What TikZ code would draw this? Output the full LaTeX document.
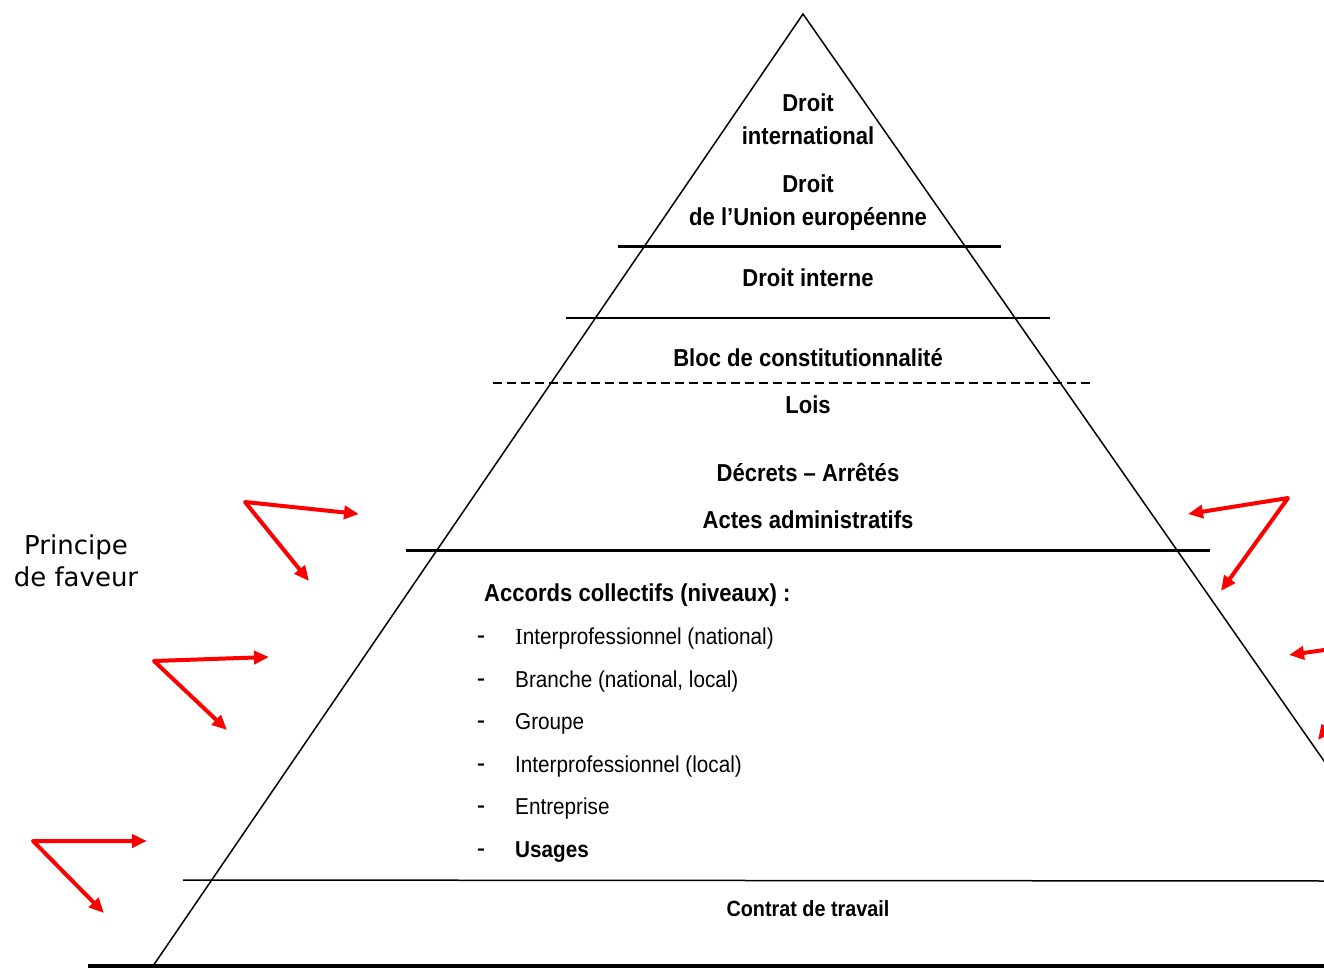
\documentclass[tikz,border=0pt]{standalone}
\usepackage{fontspec}
\setmainfont{Liberation Sans}[FakeStretch=0.9]
\newfontfamily\verdfont{DejaVu Sans}
\newfontfamily\serifIfont{Liberation Serif}
\usetikzlibrary{arrows.meta}
\begin{document}
\begin{tikzpicture}[x=1pt,y=-1pt,
 edgeline/.style={line width=1.5pt},
 thickrule/.style={line width=3pt},
 midrule/.style={line width=2pt},
 thinrule/.style={line width=1.5pt},
 lbl/.style={font=\fontsize{24.5}{28}\selectfont\bfseries, anchor=base, inner sep=0pt},
 smalllbl/.style={font=\fontsize{22}{26}\selectfont\bfseries, anchor=base, inner sep=0pt},
 itemtxt/.style={font=\fontsize{23}{28}\selectfont, anchor=base west, inner sep=0pt},
 dashtxt/.style={font=\fontsize{28}{28}\selectfont, anchor=base, inner sep=0pt},
 sidetxt/.style={font=\verdfont\fontsize{26}{30}\selectfont, anchor=base, inner sep=0pt},
 redarr/.style={draw=red, line width=4pt, line join=round,
   {Triangle[length=15pt,width=13pt]}-{Triangle[length=15pt,width=13pt]}},
]
\useasboundingbox (0,0) rectangle (1324,968);
\clip (0,0) rectangle (1324,968);

% pyramid
\coordinate (apex) at (803,14);
\coordinate (bl) at (153,966);
\coordinate (br) at (1467,966);
\draw[edgeline] (bl) -- (apex) -- (br);

% rules
\coordinate (r1a) at (618,247); \coordinate (r1b) at (1001,247);
\coordinate (r2a) at (566,318); \coordinate (r2b) at (1050,318);
\coordinate (r3a) at (493,383); \coordinate (r3b) at (1093,383);
\coordinate (r4a) at (406,550); \coordinate (r4b) at (1210,550);
\coordinate (r5a) at (183,880); \coordinate (r5b) at (1330,881);
\coordinate (r6a) at (88,966); \coordinate (r6b) at (1330,966);
\draw[thickrule] (r1a) -- (r1b);
\draw[midrule] (r2a) -- (r2b);
\draw[line width=1.3pt, dash pattern=on 9pt off 5pt] (r3a) -- (r3b);
\draw[thickrule] (r4a) -- (r4b);
\draw[thinrule] (r5a) -- (r5b);
\draw[line width=3.5pt] (r6a) -- (r6b);

% labels
\node[lbl] (t1) at (808,112) {Droit};
\node[lbl] (t2) at (808,145) {international};
\node[lbl] (t3) at (808,193) {Droit};
\node[lbl] (t4) at (808,226) {de l’Union européenne};
\node[lbl] (t5) at (808,286) {Droit interne};
\node[lbl] (t6) at (808,366) {Bloc de constitutionnalité};
\node[lbl] (t7) at (808,413) {Lois};
\node[lbl] (t8) at (808,481) {Décrets – Arrêtés};
\node[lbl] (t9) at (808,528) {Actes administratifs};
\node[lbl, anchor=base west] (acc) at (484,601) {Accords collectifs (niveaux) :};

\node[dashtxt] (d1) at (481,644) {-};
\node[itemtxt] (i1) at (515,644) {{\serifIfont I}nterprofessionnel (national)};
\node[dashtxt] (d2) at (481,687) {-};
\node[itemtxt] (i2) at (515,687) {Branche (national, local)};
\node[dashtxt] (d3) at (481,729) {-};
\node[itemtxt] (i3) at (515,729) {Groupe};
\node[dashtxt] (d4) at (481,772) {-};
\node[itemtxt] (i4) at (515,772) {Interprofessionnel (local)};
\node[dashtxt] (d5) at (481,814) {-};
\node[itemtxt] (i5) at (515,814) {Entreprise};
\node[dashtxt] (d6) at (481,857) {-};
\node[itemtxt, font=\fontsize{23}{28}\selectfont\bfseries] (i6) at (515,857) {Usages};

\node[smalllbl] (ct) at (808,916) {Contrat de travail};

\node[sidetxt] (pf1) at (76,554) {Principe};
\node[sidetxt] (pf2) at (76,586) {de faveur};

% red arrows, left
\coordinate (o1) at (245,502); \coordinate (a1) at (359,514); \coordinate (b1) at (309,581);
\coordinate (o2) at (154,661); \coordinate (a2) at (269,657); \coordinate (b2) at (227,730);
\coordinate (o3) at (33,841); \coordinate (a3) at (147,841); \coordinate (b3) at (104,913);
\draw[redarr] (a1) -- (o1) -- (b1);
\draw[redarr] (a2) -- (o2) -- (b2);
\draw[redarr] (a3) -- (o3) -- (b3);
% red arrows, right
\coordinate (o4) at (1288,498); \coordinate (a4) at (1188,514); \coordinate (b4) at (1221,591);
\coordinate (o5) at (1395,640); \coordinate (a5) at (1289,655); \coordinate (b5) at (1318,740);
\draw[redarr] (a4) -- (o4) -- (b4);
\draw[redarr] (a5) -- (o5) -- (b5);
\end{tikzpicture}
\end{document}
